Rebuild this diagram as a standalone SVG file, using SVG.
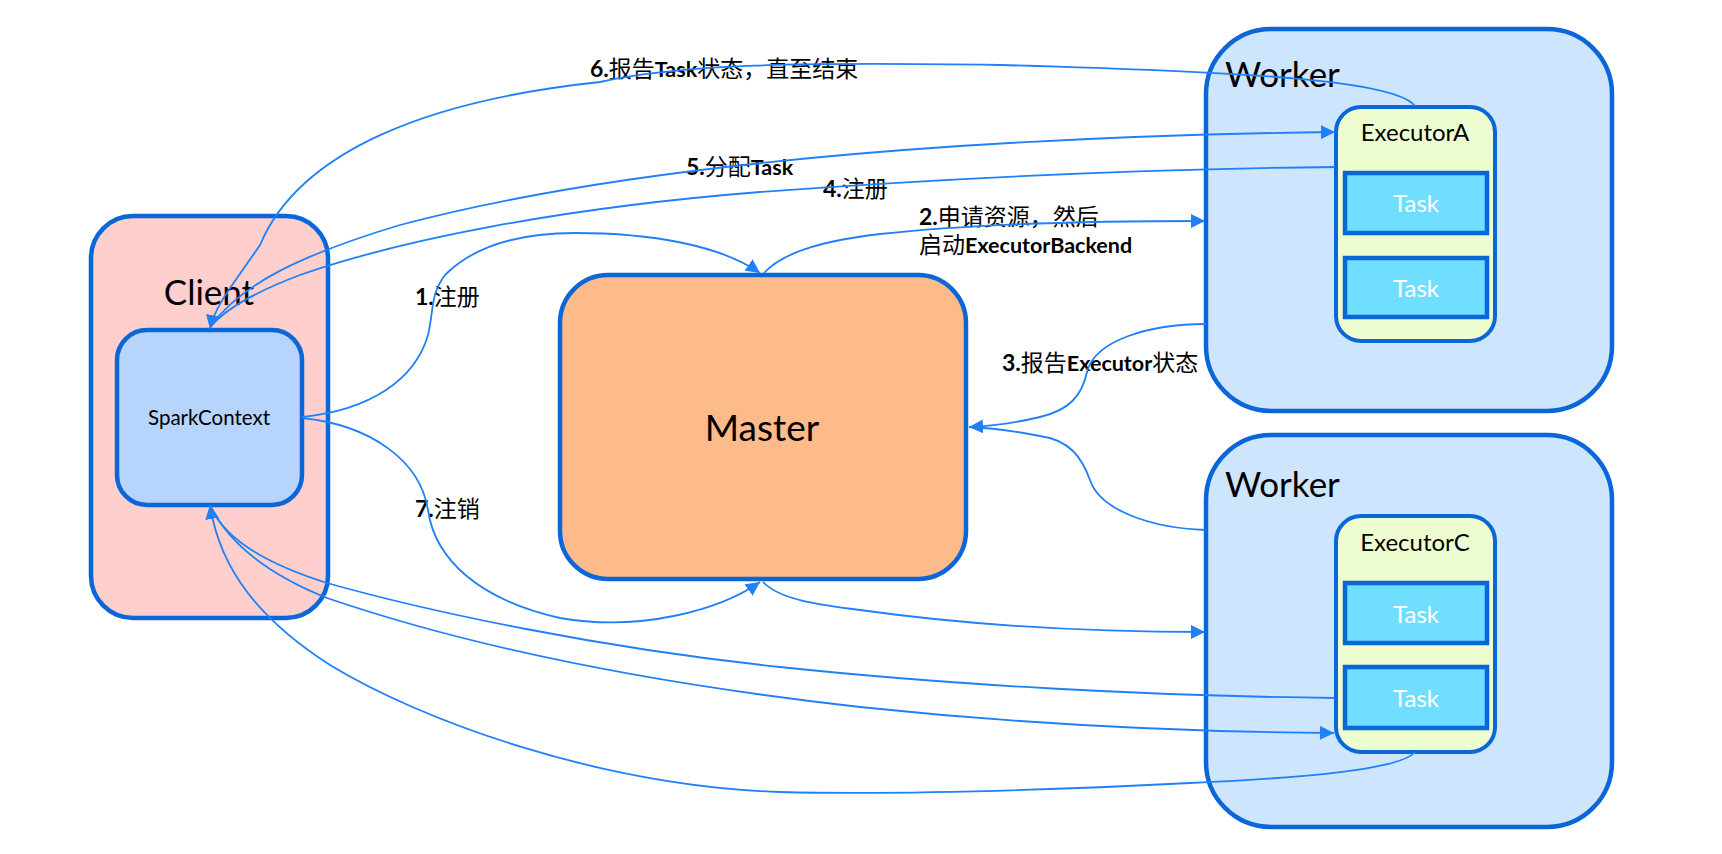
<svg xmlns="http://www.w3.org/2000/svg" width="1722" height="854" viewBox="0 0 1722 854">
<style>
  .box{stroke:#0b66d8;stroke-width:4.5}
  .client{fill:#fecfcc}
  .sc{fill:#b6d4fc}
  .master{fill:#fdbb8b}
  .worker{fill:#cde5fd}
  .exec{fill:#eefdd0;stroke-width:4}
  .task{fill:#6fdeff;stroke-width:4.5}
  .t{font-family:Lato,"Noto Sans CJK SC",sans-serif;fill:#000}
  .tw{font-family:Lato,"Noto Sans CJK SC",sans-serif;fill:#fff;font-size:24px;text-anchor:middle}
  .lbl{font-family:Lato,"Noto Sans CJK SC",sans-serif;font-size:23px;fill:#000}
  .b{font-weight:700}
  .bl{font-weight:700;font-size:21.5px}
  .c{fill:none;stroke:#1f80f8;stroke-width:1.8}
</style>
<defs>
  <marker id="ah" viewBox="0 0 12 12" refX="12" refY="6" markerWidth="14" markerHeight="14" orient="auto" markerUnits="userSpaceOnUse">
    <path d="M0,0 L12,6 L0,12 z" fill="#1f80f8"/>
  </marker>
</defs>
<rect width="1722" height="854" fill="#fff"/>

<g id="client">
  <rect class="box client" x="91" y="216" width="237" height="402" rx="42"/>
  <text class="t" x="209" y="305" font-size="35" text-anchor="middle">Client</text>
</g>
<g id="sparkcontext">
  <rect class="box sc" x="117" y="330" width="185" height="175" rx="30"/>
  <text class="t" x="209" y="425" font-size="20.5" text-anchor="middle">SparkContext</text>
</g>
<g id="master">
  <rect class="box master" x="560" y="275" width="406" height="304" rx="48"/>
  <text class="t" x="762" y="441" font-size="37" text-anchor="middle">Master</text>
</g>
<g id="workerA">
  <rect class="box worker" x="1206" y="29" width="406" height="382" rx="65"/>
  <text class="t" x="1225" y="87" font-size="35">Worker</text>
</g>
<g id="executorA">
  <rect class="box exec" x="1336" y="107" width="159" height="234" rx="25"/>
  <text class="t" x="1415" y="141" font-size="24" text-anchor="middle">ExecutorA</text>
</g>
<g id="taskA1">
  <rect class="box task" x="1345" y="173" width="142" height="60"/>
  <text class="tw" x="1416" y="212">Task</text>
</g>
<g id="taskA2">
  <rect class="box task" x="1345" y="258" width="142" height="59"/>
  <text class="tw" x="1416" y="297">Task</text>
</g>
<g id="workerC">
  <rect class="box worker" x="1206" y="435" width="406" height="392" rx="65"/>
  <text class="t" x="1225" y="497" font-size="35">Worker</text>
</g>
<g id="executorC">
  <rect class="box exec" x="1336" y="516" width="159" height="236" rx="25"/>
  <text class="t" x="1415" y="551" font-size="24" text-anchor="middle">ExecutorC</text>
</g>
<g id="taskC1">
  <rect class="box task" x="1345" y="583" width="142" height="60"/>
  <text class="tw" x="1416" y="623">Task</text>
</g>
<g id="taskC2">
  <rect class="box task" x="1345" y="667" width="142" height="61"/>
  <text class="tw" x="1416" y="707">Task</text>
</g>

<g id="labels">
  <text class="lbl" x="590" y="77"><tspan class="b">6.</tspan>报告<tspan class="bl">Task</tspan>状态，直至结束</text>
  <text class="lbl" x="686" y="175"><tspan class="b">5.</tspan>分配<tspan class="bl">Task</tspan></text>
  <text class="lbl" x="823" y="197"><tspan class="b">4.</tspan>注册</text>
  <text class="lbl" x="919" y="225"><tspan class="b">2.</tspan>申请资源，然后</text>
  <text class="lbl" x="919" y="253">启动<tspan class="bl">ExecutorBackend</tspan></text>
  <text class="lbl" x="1002" y="371"><tspan class="b">3.</tspan>报告<tspan class="bl">Executor</tspan>状态</text>
  <text class="lbl" x="415" y="305"><tspan class="b">1.</tspan>注册</text>
  <text class="lbl" x="415" y="517"><tspan class="b">7.</tspan>注销</text>
</g>

<g id="connectors">
  <path class="c" d="M302 417 C370 410,415 380,428 335 C434 310,430 295,445 275 C475 245,520 233,575 233 C650 233,720 245,760 273" marker-end="url(#ah)"/>
  <path class="c" d="M764 273 C785 250,830 240,880 234 C960 225,1080 221,1205 221" marker-end="url(#ah)"/>
  <path class="c" d="M1206 324 C1150 324,1095 340,1087 372 C1082 395,1070 410,1040 417 C1015 423,995 426,969 427" marker-end="url(#ah)"/>
  <path class="c" d="M1206 530 C1150 528,1100 510,1090 480 C1082 458,1070 440,1040 436 C1015 431,995 428,969 427"/>
  <path class="c" d="M1335 167 C1150 169,950 178,760 192 C560 208,400 240,300 275 C255 292,225 310,211 326"/>
  <path class="c" d="M211 326 C240 285,300 255,400 225 C550 185,750 160,960 146 C1100 137,1250 133,1335 132" marker-end="url(#ah)"/>
  <path class="c" d="M1415 106 C1395 80,1250 72,1000 65 C800 62,680 64,600 82 C430 100,300 150,260 245 C235 282,215 305,210 329" marker-end="url(#ah)"/>
  <path class="c" d="M302 418 C370 425,420 460,428 510 C435 560,480 600,560 618 C640 632,720 610,760 582" marker-end="url(#ah)"/>
  <path class="c" d="M763 582 C780 600,820 605,860 610 C960 624,1080 632,1205 632" marker-end="url(#ah)"/>
  <path class="c" d="M1335 698 C1150 696,950 685,780 667 C600 648,430 612,327 583 C270 565,225 540,211 507"/>
  <path class="c" d="M211 507 C230 545,270 575,327 598 C450 640,620 680,860 707 C1030 725,1200 732,1334 733" marker-end="url(#ah)"/>
  <path class="c" d="M1415 752 C1400 770,1300 778,1190 783 C1050 790,900 795,780 792 C600 786,420 720,330 665 C260 620,220 570,210 505" marker-end="url(#ah)"/>
</g>
</svg>
